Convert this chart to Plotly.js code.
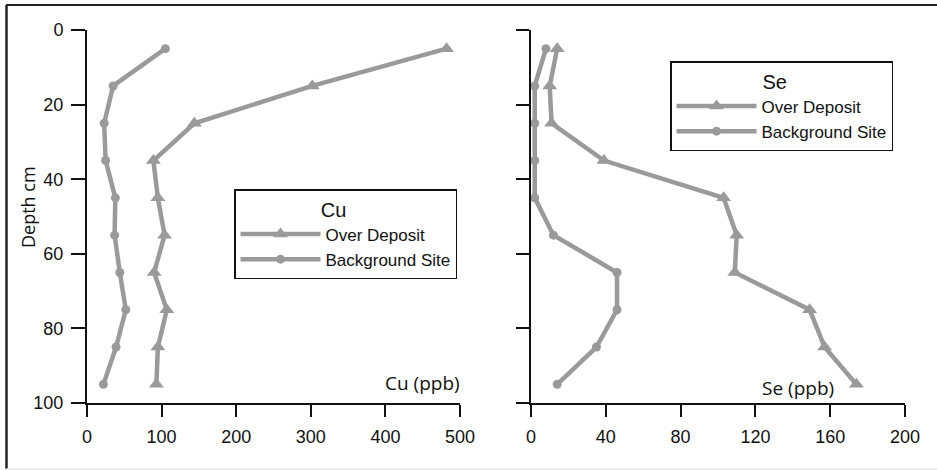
<!DOCTYPE html>
<html>
<head>
<meta charset="utf-8">
<script src="https://cdn.plot.ly/plotly-3.0.1.min.js"></script>
<style>html,body{margin:0;padding:0;background:#fff;}#chart{width:937px;height:470px;}</style>
</head>
<body>
<div id="chart"></div>
<script>
// Depths (cm)
const depths = [5, 15, 25, 35, 45, 55, 65, 75, 85, 95];
// Cu (ppb)
const cuOverDeposit = [482, 302, 144, 89, 95, 104, 90, 107, 95, 93];
const cuBackground = [105, 35, 23, 25, 38, 37, 44, 52, 39, 22];
// Se (ppb)
const seOverDeposit = [14, 10, 11, 39, 103, 110, 109, 149, 157, 174];
const seBackground = [8, 2, 2, 2, 2, 12, 46, 46, 35, 14];
// Tick values
const depthTicks = [0, 20, 40, 60, 80, 100];
const cuTicks = [0, 100, 200, 300, 400, 500];
const seTicks = [0, 40, 80, 120, 160, 200];

const W = 937, H = 470;
const px = v => v / W;
const py = v => 1 - v / H;
const gray = '#9a9a9a';
const tickFont = {family: 'Liberation Sans, Arial, sans-serif', size: 18, color: '#111'};
const legFont = {family: 'Liberation Sans, Arial, sans-serif', size: 17, color: '#111'};

function tr(x, y, name, sym, msize, xa, ya, leg) {
  return {
    x: x, y: y, name: name, type: 'scatter', mode: 'lines+markers',
    xaxis: xa, yaxis: ya, legend: leg,
    line: {color: gray, width: 4.5},
    marker: {color: gray, symbol: sym, size: msize}
  };
}

const data = [
  tr(cuOverDeposit, depths, 'Over Deposit', 'triangle-up', 13, 'x', 'y', 'legend'),
  tr(cuBackground, depths, 'Background Site', 'circle', 9, 'x', 'y', 'legend'),
  tr(seOverDeposit, depths, 'Over Deposit', 'triangle-up', 13, 'x2', 'y2', 'legend2'),
  tr(seBackground, depths, 'Background Site', 'circle', 9, 'x2', 'y2', 'legend2')
];

const axBase = {
  showline: true, linecolor: '#111', linewidth: 2,
  ticks: 'outside', tickcolor: '#111', tickwidth: 2,
  showgrid: false, zeroline: false, tickfont: tickFont, fixedrange: true
};
const nb = '\u00A0';

const layout = {
  width: W, height: H,
  margin: {l: 0, r: 0, t: 0, b: 0},
  paper_bgcolor: '#fff', plot_bgcolor: 'rgba(0,0,0,0)',
  showlegend: true,
  xaxis: Object.assign({}, axBase, {domain: [px(87), px(460)], range: [0, 500], tickvals: cuTicks, ticklen: 12, anchor: 'y', ticklabelstandoff: 4}),
  yaxis: Object.assign({}, axBase, {domain: [py(403), py(30)], range: [100, 0], tickvals: depthTicks, ticklen: 14, anchor: 'x', ticklabelstandoff: 4}),
  xaxis2: Object.assign({}, axBase, {domain: [px(531), px(905)], range: [0, 200], tickvals: seTicks, ticklen: 12, anchor: 'y2', ticklabelstandoff: 4}),
  yaxis2: Object.assign({}, axBase, {domain: [py(403), py(30)], range: [100, 0], tickvals: depthTicks, ticklen: 13, anchor: 'x2', showticklabels: false}),
  legend: {
    x: px(234), y: py(189), xanchor: 'left', yanchor: 'top', xref: 'paper', yref: 'paper',
    bordercolor: '#111', borderwidth: 1.5, bgcolor: '#fff', font: legFont,
    itemwidth: 80, tracegroupgap: 0,
    title: {text: nb.repeat(15) + 'Cu', font: {family: 'Liberation Sans, Arial, sans-serif', size: 20, color: '#111'}}
  },
  legend2: {
    x: px(670), y: py(61), xanchor: 'left', yanchor: 'top', xref: 'paper', yref: 'paper',
    bordercolor: '#111', borderwidth: 1.5, bgcolor: '#fff', font: legFont,
    itemwidth: 80, tracegroupgap: 0,
    title: {text: nb.repeat(16) + 'Se', font: {family: 'Liberation Sans, Arial, sans-serif', size: 20, color: '#111'}}
  },
  annotations: [
    {text: 'Depth cm', xref: 'paper', yref: 'paper', x: px(28), y: py(207), xanchor: 'center', yanchor: 'middle', textangle: -90, showarrow: false,
     font: {family: 'Open Sans, sans-serif', size: 18, color: '#111'}},
    {text: 'Cu (ppb)', xref: 'paper', yref: 'paper', x: px(462), y: py(383), xanchor: 'right', yanchor: 'middle', showarrow: false,
     font: {family: 'Open Sans, sans-serif', size: 19, color: '#111'}},
    {text: 'Se (ppb)', xref: 'paper', yref: 'paper', x: px(798), y: py(388), xanchor: 'center', yanchor: 'middle', showarrow: false,
     font: {family: 'Open Sans, sans-serif', size: 19, color: '#111'}}
  ],
  shapes: [
    {type: 'line', xref: 'paper', yref: 'paper', x0: px(6), x1: 1, y0: py(5), y1: py(5), line: {color: '#222', width: 2}},
    {type: 'line', xref: 'paper', yref: 'paper', x0: px(6.5), x1: px(6.5), y0: py(5), y1: py(469), line: {color: '#222', width: 2.5}},
    {type: 'line', xref: 'paper', yref: 'paper', x0: px(6), x1: 1, y0: py(469), y1: py(469), line: {color: '#e6e6e6', width: 1.5}}
  ]
};

Plotly.newPlot('chart', data, layout, {displayModeBar: false, staticPlot: true});
</script>
</body>
</html>
